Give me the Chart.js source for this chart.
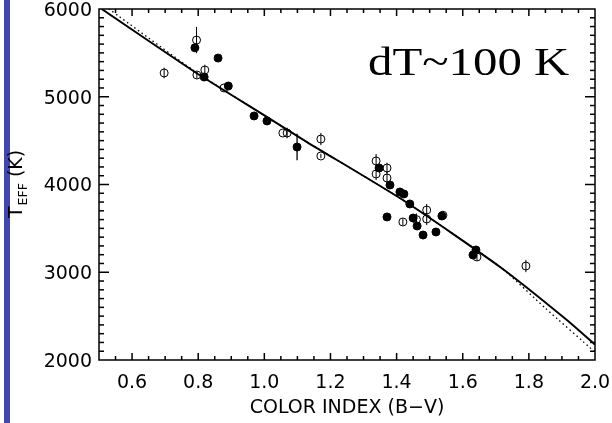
<!DOCTYPE html>
<html><head><meta charset="utf-8">
<script src="https://cdn.jsdelivr.net/npm/chart.js@4.4.1/dist/chart.umd.min.js"></script>
<style>html,body{margin:0;padding:0;background:#fff;} canvas{display:block;}</style>
</head><body>
<canvas id="c" width="612" height="423" style="width:612px;height:423px"></canvas>
<script>
// ---- data ----
const filledBV  = [0.790, 0.818, 0.860, 0.891, 0.969, 1.008, 1.099, 1.347, 1.380, 1.410, 1.422, 1.440, 1.371, 1.450, 1.462, 1.480, 1.519, 1.537, 1.640, 1.631];
const filledT   = [5558, 5225, 5441, 5122, 4781, 4724, 4427, 4188, 3994, 3915, 3892, 3778, 3630, 3618, 3527, 3424, 3459, 3641, 3254, 3197];
const filledErr = [0, 0, 0, 0, 0, 0, 150, 0, 0, 0, 0, 0, 0, 0, 0, 0, 0, 0, 0, 0];

const openBV  = [0.697, 0.795, 0.796, 0.820, 0.878, 1.056, 1.069, 1.171, 1.171, 1.338, 1.371, 1.338, 1.371, 1.419, 1.491, 1.491, 1.540, 1.643, 1.791, 1.460];
const openT   = [5271, 5646, 5248, 5305, 5100, 4587, 4587, 4518, 4325, 4268, 4188, 4120, 4074, 3573, 3709, 3607, 3650, 3174, 3071, 3600];
const openErr = [60, 150, 40, 60, 0, 0, 60, 70, 25, 80, 60, 70, 70, 40, 70, 70, 0, 40, 70, 70];

const fitBV      = [0.508, 0.790, 0.999, 1.129, 1.419, 1.713, 1.915, 2.000];
const fitSolidT  = [6000, 5282, 4790, 4484, 3823, 3060, 2456, 2175];
const dotBV      = [0.530, 0.790, 0.999, 1.129, 1.419, 1.713, 1.850, 2.000];
const fitDottedT = [6000, 5290, 4790, 4484, 3823, 3060, 2590, 2090];

const xTickValues = [0.6, 0.8, 1.0, 1.2, 1.4, 1.6, 1.8, 2.0];
const xTickLabels = ['0.6', '0.8', '1.0', '1.2', '1.4', '1.6', '1.8', '2.0'];
const yTickValues = [2000, 3000, 4000, 5000, 6000];
const yTickLabels = ['2000', '3000', '4000', '5000', '6000'];

const toPts = (xs, ys) => xs.map((x, i) => ({x: x, y: ys[i]}));

const bgPlugin = {
  id: 'bg',
  beforeDraw(chart) {
    const ctx = chart.ctx;
    ctx.save();
    ctx.fillStyle = '#ffffff';
    ctx.fillRect(0, 0, chart.width, chart.height);
    ctx.fillStyle = '#4347A9';
    ctx.fillRect(4, 0, 6, chart.height);
    ctx.restore();
  }
};

const errPlugin = {
  id: 'errbars',
  afterDatasetsDraw(chart) {
    const ctx = chart.ctx, xs = chart.scales.x, ys = chart.scales.y;
    ctx.save();
    ctx.strokeStyle = '#000';
    chart.data.datasets.forEach(ds => {
      if (!ds.err) return;
      ctx.lineWidth = ds.errWidth || 1;
      ds.data.forEach((p, i) => {
        const e = ds.err[i];
        if (!e) return;
        const px = xs.getPixelForValue(p.x);
        ctx.beginPath();
        ctx.moveTo(px, ys.getPixelForValue(p.y + e));
        ctx.lineTo(px, ys.getPixelForValue(p.y - e));
        ctx.stroke();
      });
    });
    ctx.restore();
  }
};

function tickLine(ctx, x1, y1, x2, y2) {
  ctx.beginPath();
  ctx.moveTo(x1, y1);
  ctx.lineTo(x2, y2);
  ctx.stroke();
}

const framePlugin = {
  id: 'frame',
  afterDraw(chart) {
    const ctx = chart.ctx, a = chart.chartArea, xs = chart.scales.x, ys = chart.scales.y;
    ctx.save();
    ctx.strokeStyle = '#000000';
    ctx.setLineDash([]);
    ctx.lineWidth = 1.5;
    ctx.strokeRect(a.left, a.top, a.right - a.left, a.bottom - a.top);
    ctx.lineWidth = 1.5;
    // x ticks (major 0.2, minor 0.05), inward on bottom and top
    for (let k = 11; k < 40; k++) {
      const v = k * 0.05;
      const major = (k % 4 === 0);
      const len = major ? 7 : 4;
      const px = xs.getPixelForValue(v);
      tickLine(ctx, px, a.bottom, px, a.bottom - len);
      tickLine(ctx, px, a.top, px, a.top + len);
    }
    // y ticks (major 1000, minor 100)
    for (let k = 21; k < 60; k++) {
      const v = k * 100;
      const major = (k % 10 === 0);
      const len = major ? 10 : 5;
      const py = ys.getPixelForValue(v);
      tickLine(ctx, a.left, py, a.left + len, py);
      tickLine(ctx, a.right, py, a.right - len, py);
    }
    ctx.restore();

    // y axis title: T_EFF (K)
    ctx.save();
    ctx.fillStyle = '#000';
    ctx.translate(22, 218);
    ctx.rotate(-Math.PI / 2);
    ctx.textBaseline = 'alphabetic';
    ctx.textAlign = 'left';
    ctx.font = '19px "DejaVu Sans"';
    ctx.fillText('T', 0, 0);
    const tw = ctx.measureText('T').width;
    ctx.font = '12.5px "DejaVu Sans"';
    ctx.fillText('EFF', tw + 1, 5);
    const ew = ctx.measureText('EFF').width;
    ctx.font = '19px "DejaVu Sans"';
    ctx.fillText('(K)', tw + 1 + ew + 6, 0);
    ctx.restore();

    // annotation
    ctx.save();
    ctx.fillStyle = '#000';
    ctx.translate(368, 75);
    ctx.scale(1.22, 1);
    ctx.font = '40px "Liberation Serif", "Times New Roman", serif';
    ctx.textBaseline = 'alphabetic';
    ctx.textAlign = 'left';
    ctx.fillText('dT~100 K', 0, 0);
    ctx.restore();
  }
};

new Chart(document.getElementById('c'), {
  type: 'scatter',
  data: {
    datasets: [
      { type: 'line', data: toPts(dotBV, fitDottedT), borderColor: '#000', borderWidth: 1.3, borderDash: [1.5, 3], pointRadius: 0, fill: false, tension: 0.2, order: 4 },
      { type: 'line', data: toPts(fitBV, fitSolidT), borderColor: '#000', borderWidth: 2, pointRadius: 0, fill: false, tension: 0.2, order: 3 },
      { data: toPts(filledBV, filledT), err: filledErr, errWidth: 1.3, pointRadius: 4, pointBackgroundColor: '#000', pointBorderColor: '#000', pointBorderWidth: 1, order: 2 },
      { data: toPts(openBV, openT), err: openErr, errWidth: 1, pointRadius: 4, pointBackgroundColor: 'rgba(255,255,255,0)', pointBorderColor: '#000', pointBorderWidth: 1, order: 1 }
    ]
  },
  options: {
    responsive: false,
    animation: false,
    devicePixelRatio: 1,
    layout: { padding: { left: 0, right: 17, top: 9, bottom: 0 } },
    plugins: { legend: { display: false }, tooltip: { enabled: false }, title: { display: false } },
    scales: {
      x: {
        type: 'linear', min: 0.5, max: 2.0,
        grid: { display: false, drawTicks: false },
        border: { display: false },
        afterBuildTicks(s) { s.ticks = xTickValues.map(v => ({ value: v })); },
        afterFit(s) { s.height = 63; s.paddingLeft = 0; s.paddingRight = 0; },
        ticks: {
          padding: 12, maxRotation: 0, autoSkip: false, color: '#000',
          font: { family: '"DejaVu Sans"', size: 19 },
          callback: (v) => { const i = xTickValues.findIndex(t => Math.abs(t - v) < 1e-6); return i >= 0 ? xTickLabels[i] : ''; }
        },
        title: { display: true, text: 'COLOR INDEX (B\u2212V)', color: '#000', font: { family: '"DejaVu Sans"', size: 19 }, padding: { top: 0, bottom: 4 } }
      },
      y: {
        type: 'linear', min: 2000, max: 6000,
        grid: { display: false, drawTicks: false },
        border: { display: false },
        afterBuildTicks(s) { s.ticks = yTickValues.map(v => ({ value: v })); },
        afterFit(s) { s.width = 99; s.paddingTop = 0; s.paddingBottom = 0; },
        ticks: {
          padding: 7, autoSkip: false, color: '#000', labelOffset: 2,
          font: { family: '"DejaVu Sans"', size: 19 },
          callback: (v) => { const i = yTickValues.indexOf(v); return i >= 0 ? yTickLabels[i] : ''; }
        }
      }
    }
  },
  plugins: [bgPlugin, errPlugin, framePlugin]
});
</script>
</body></html>
